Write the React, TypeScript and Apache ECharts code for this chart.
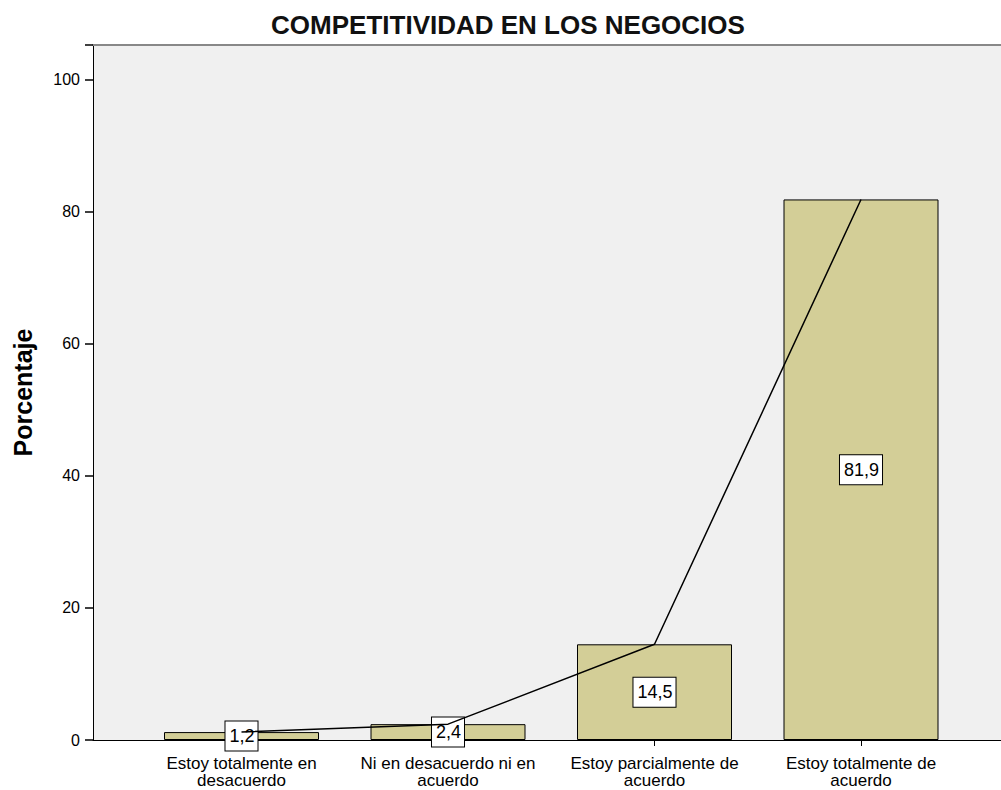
import React, { useEffect, useRef } from "react";
import * as echarts from "echarts";

const categories = [
  "Estoy totalmente en\ndesacuerdo",
  "Ni en desacuerdo ni en\nacuerdo",
  "Estoy parcialmente de\nacuerdo",
  "Estoy totalmente de\nacuerdo",
];
const percentages = [1.2, 2.4, 14.5, 81.9];
const yTicks = [0, 20, 40, 60, 80, 100];

const FONT = "'Liberation Sans', Arial, sans-serif";
const Y_MAX = 105.3;

export default function App() {
  const ref = useRef<HTMLDivElement>(null);
  useEffect(() => {
    if (!ref.current) return;
    const chart = echarts.init(ref.current, undefined, { renderer: "svg" });
    chart.setOption({
      animation: false,
      backgroundColor: "#ffffff",
      title: {
        text: "COMPETITIVIDAD EN LOS NEGOCIOS",
        left: 503,
        textAlign: "center",
        top: 7,
        textStyle: { fontFamily: FONT, fontSize: 26, fontWeight: "bold", color: "#111" },
      },
      grid: [
        { left: 93, right: 0, top: 45, bottom: 50, show: true, backgroundColor: "#f0f0f0", borderWidth: 0 },
        { left: 138.25, width: 826, top: 45, bottom: 50 },
      ],
      xAxis: [
        {
          type: "value", gridIndex: 0, min: 0, max: 1, position: "bottom",
          axisLine: { show: true, lineStyle: { color: "#000", width: 1 } },
          axisTick: { show: false }, axisLabel: { show: false }, splitLine: { show: false },
        },
        {
          type: "value", gridIndex: 0, min: 0, max: 1, position: "top",
          axisLine: { show: true, lineStyle: { color: "#888", width: 2 } },
          axisTick: { show: false }, axisLabel: { show: false }, splitLine: { show: false },
        },
        {
          type: "category", gridIndex: 1, data: categories,
          axisLine: { show: false },
          axisTick: { show: true, alignWithLabel: true, length: 6, lineStyle: { color: "#000" } },
          axisLabel: { fontFamily: FONT, fontSize: 17, lineHeight: 17, color: "#000", margin: 15, interval: 0 },
          splitLine: { show: false },
        },
      ],
      yAxis: [
        {
          type: "value", gridIndex: 0, min: 0, max: Y_MAX, interval: 20,
          axisLine: { show: true, lineStyle: { color: "#000", width: 1 } },
          axisTick: { show: true, inside: false, length: 8, lineStyle: { color: "#000", width: 1.5 } },
          axisLabel: {
            fontFamily: FONT, fontSize: 16, color: "#000", margin: 13,
            formatter: (v: number) => (yTicks.includes(v) ? String(v) : ""),
          },
          splitLine: { show: false },
          name: "Porcentaje",
          nameLocation: "middle",
          nameGap: 58,
          nameRotate: 90,
          nameTextStyle: { fontFamily: FONT, fontSize: 25, fontWeight: "bold", color: "#000" },
        },
        { type: "value", gridIndex: 1, min: 0, max: Y_MAX, show: false },
      ],
      series: [
        {
          type: "bar",
          xAxisIndex: 2,
          yAxisIndex: 1,
          data: percentages,
          barWidth: 155,
          z: 2,
          itemStyle: { color: "#d3ce97", borderColor: "#000", borderWidth: 1 },
          label: {
            show: true,
            position: "inside",
            formatter: (p: any) => String(p.value).replace(".", ","),
            fontFamily: FONT,
            fontSize: 18,
            color: "#000",
            backgroundColor: "#fff",
            borderColor: "#000",
            borderWidth: 1,
            padding: [6, 3, 5, 4],
          },
        },
        {
          type: "line",
          xAxisIndex: 2,
          yAxisIndex: 1,
          data: percentages,
          symbol: "none",
          z: 5,
          lineStyle: { color: "#000", width: 1.5 },
        },
      ],
    });
    return () => chart.dispose();
  }, []);
  return (
    <div
      ref={ref}
      style={{ position: "fixed", left: 0, top: 0, width: 1001, height: 790 }}
    />
  );
}
